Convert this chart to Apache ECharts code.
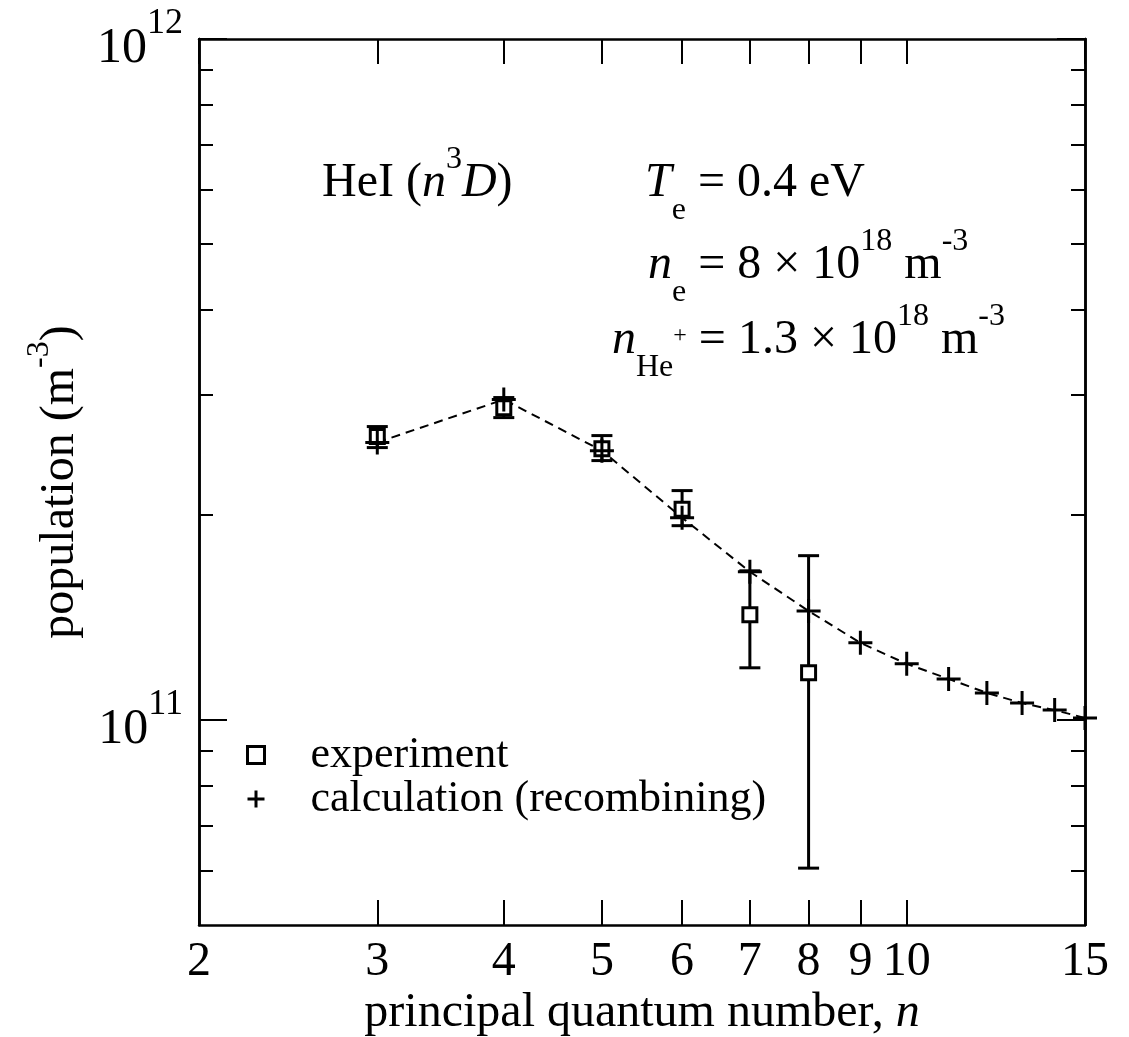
<!DOCTYPE html>
<html><head><meta charset="utf-8">
<script src="https://cdn.jsdelivr.net/npm/echarts@6/dist/echarts.min.js"></script>
<style>html,body{margin:0;padding:0;background:#fff}#c{width:1129px;height:1037px}</style>
</head><body><div id="c"></div>
<script>
const nCalc = [3, 4, 5, 6, 7, 8, 9, 10, 11, 12, 13, 14, 15];
const popCalc = [2.556e11, 2.955e11, 2.486e11, 1.982e11, 1.651e11, 1.446e11, 1.298e11, 1.209e11, 1.149e11, 1.096e11, 1.059e11, 1.034e11, 1.007e11];
const nExp = [3, 4, 5, 6, 7, 8];
const popExp = [2.607e11, 2.875e11, 2.503e11, 2.04e11, 1.427e11, 1.173e11];
const errLow = [2.512e11, 2.78e11, 2.404e11, 1.929e11, 1.193e11, 0.606e11];
const errHigh = [2.697e11, 2.975e11, 2.616e11, 2.172e11, 1.656e11, 1.743e11];
const xTicks = [2, 3, 4, 5, 6, 7, 8, 9, 10, 15];
const yMajorTicks = [1e11, 1e12];
const yMinorTicks = [6e10, 7e10, 8e10, 9e10, 2e11, 3e11, 4e11, 5e11, 6e11, 7e11, 8e11, 9e11];

const FONT = 'Liberation Serif';
const BLACK = '#000';
const chart = echarts.init(document.getElementById('c'), null, {renderer: 'canvas'});

const calcData = nCalc.map((n, i) => [n, popCalc[i]]);
const expData = nExp.map((n, i) => [n, popExp[i]]);
const errData = nExp.map((n, i) => [n, errLow[i], errHigh[i]]);

function xAxisDef(pos, showLabel) {
  return {
    type: 'log', logBase: 10, min: 2, max: 15, position: pos,
    axisLine: {show: true, onZero: false, lineStyle: {color: BLACK, width: 2.5}},
    axisTick: {show: true, inside: true, length: 25, customValues: xTicks, lineStyle: {color: BLACK, width: 2}},
    axisLabel: {show: showLabel, customValues: xTicks, margin: 13, color: BLACK, fontFamily: FONT, fontSize: 48},
    splitLine: {show: false}, minorTick: {show: false}, minorSplitLine: {show: false},
    name: showLabel ? 'principal quantum number, {i|n}' : '',
    nameLocation: 'middle', nameGap: 64, nameMoveOverlap: false,
    nameTextStyle: {color: BLACK, fontFamily: FONT, fontSize: 48,
      rich: {i: {fontFamily: FONT, fontSize: 48, fontStyle: 'italic', color: BLACK}}}
  };
}
function yAxisDef(pos, major, showLabel) {
  return {
    type: 'log', logBase: 10, min: 5e10, max: 1e12, position: pos,
    axisLine: {show: true, onZero: false, lineStyle: {color: BLACK, width: 2.5}},
    axisTick: {show: true, inside: true, length: major ? 28 : 14, customValues: major ? yMajorTicks : yMinorTicks, lineStyle: {color: BLACK, width: 2}},
    axisLabel: {show: showLabel, customValues: yMajorTicks, margin: 16, color: BLACK,
      formatter: v => '{b|10}{s|' + Math.round(Math.log10(v)) + '}',
      rich: {
        b: {fontFamily: FONT, fontSize: 50, color: BLACK, verticalAlign: 'middle', padding: [20, 0, 0, 0]},
        s: {fontFamily: FONT, fontSize: 36, color: BLACK, verticalAlign: 'middle', padding: [0, 0, 30, 0]}
      }},
    splitLine: {show: false}, minorTick: {show: false}, minorSplitLine: {show: false},
    name: showLabel ? 'population (m{s|-3})' : '',
    nameLocation: 'middle', nameGap: 103, nameRotate: 90, nameMoveOverlap: false,
    nameTextStyle: {color: BLACK, fontFamily: FONT, fontSize: 48,
      rich: {s: {fontFamily: FONT, fontSize: 32, color: BLACK, verticalAlign: 'middle', padding: [0, 0, 40, 0]}}}
  };
}

const richAnn = {
  r: {fontFamily: FONT, fontSize: 48, color: BLACK, verticalAlign: 'middle'},
  i: {fontFamily: FONT, fontSize: 48, fontStyle: 'italic', color: BLACK, verticalAlign: 'middle'},
  sub: {fontFamily: FONT, fontSize: 32, color: BLACK, verticalAlign: 'middle', padding: [56, 0, 0, 0]},
  sup: {fontFamily: FONT, fontSize: 32, color: BLACK, verticalAlign: 'middle', padding: [0, 0, 46, 0]},
  ssup: {fontFamily: FONT, fontSize: 24, color: BLACK, verticalAlign: 'middle', padding: [0, 0, 8, 0]}
};
function ann(x, y, text) {
  return {type: 'text', x: x, y: y, z: 100,
    style: {text: text, verticalAlign: 'middle', align: 'left', fill: BLACK, fontFamily: FONT, fontSize: 48, rich: richAnn}};
}

const PLUS = 'path://M10,0L10,20M0,10L20,10';
const option = {
  backgroundColor: '#fff',
  animation: false,
  grid: {left: 199, right: 44, top: 39, bottom: 112, containLabel: false, outerBoundsMode: 'none'},
  xAxis: [xAxisDef('bottom', true), xAxisDef('top', false)],
  yAxis: [yAxisDef('left', true, true), yAxisDef('left', false, false), yAxisDef('right', true, false), yAxisDef('right', false, false)],
  legend: {
    orient: 'vertical', left: 246, top: 733, padding: 0, itemGap: 0, itemWidth: 17, itemHeight: 17,
    textStyle: {fontFamily: FONT, fontSize: 44, color: BLACK, lineHeight: 36, padding: [0, 0, 0, 41]},
    data: [
      {name: 'experiment', icon: 'rect', itemStyle: {color: '#fff', borderColor: BLACK, borderWidth: 3}},
      {name: 'calculation (recombining)', icon: PLUS, itemStyle: {color: 'rgba(0,0,0,0)', borderColor: BLACK, borderWidth: 3}}
    ]
  },
  graphic: [
    ann(322, 183, 'HeI ({i|n}{sup|3}{i|D})'),
    ann(645, 183, '{i|T}{sub|e}{r| = 0.4 eV}'),
    ann(648, 265, '{i|n}{sub|e}{r| = 8 × 10}{sup|18}{r| m}{sup|-3}'),
    ann(612, 340, '{i|n}{sub|He}{ssup|+}{r| = 1.3 × 10}{sup|18}{r| m}{sup|-3}')
  ],
  series: [
    {
      name: 'calc-line', type: 'line', data: calcData, showSymbol: false, silent: true,
      lineStyle: {color: BLACK, width: 2, type: [9, 6]}, z: 2
    },
    {
      name: 'errorbars', type: 'custom', data: errData, z: 3,
      encode: {x: 0, y: [1, 2]},
      renderItem: function (params, api) {
        const x = api.value(0);
        const p1 = api.coord([x, api.value(1)]);
        const p2 = api.coord([x, api.value(2)]);
        const w = 10.5;
        const st = {stroke: BLACK, lineWidth: 3};
        return {type: 'group', children: [
          {type: 'line', shape: {x1: p1[0], y1: p1[1], x2: p2[0], y2: p2[1]}, style: st},
          {type: 'line', shape: {x1: p1[0] - w, y1: p1[1], x2: p1[0] + w, y2: p1[1]}, style: st},
          {type: 'line', shape: {x1: p2[0] - w, y1: p2[1], x2: p2[0] + w, y2: p2[1]}, style: st}
        ]};
      }
    },
    {
      name: 'experiment', type: 'scatter', data: expData, z: 4,
      symbol: 'rect', symbolSize: 14,
      itemStyle: {color: '#fff', borderColor: BLACK, borderWidth: 3, opacity: 1}
    },
    {
      name: 'calculation (recombining)', type: 'scatter', data: calcData, z: 5,
      symbol: PLUS, symbolSize: 24,
      itemStyle: {color: 'rgba(0,0,0,0)', borderColor: BLACK, borderWidth: 3, opacity: 1}
    }
  ]
};
chart.setOption(option);
</script>
</body></html>
